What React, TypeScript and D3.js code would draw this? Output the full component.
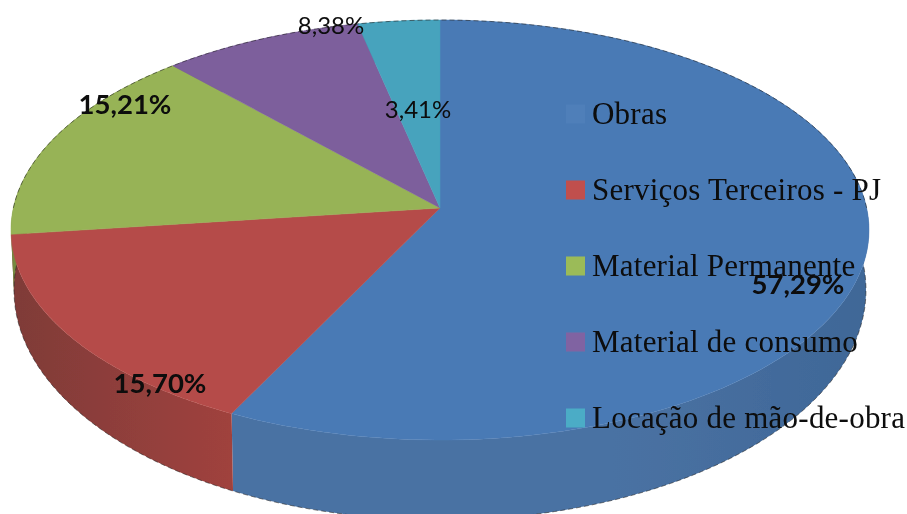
import React from "react";
import * as d3 from "d3";

const categories = ["Obras", "Serviços Terceiros - PJ", "Material Permanente", "Material de consumo", "Locação de mão-de-obra"];
const values = [57.29, 15.7, 15.21, 8.38, 3.41];
const valueLabels = ["57,29%", "15,70%", "15,21%", "8,38%", "3,41%"];
const topColors = ["#4a7ab5", "#b54c49", "#97b357", "#7d5f9c", "#46a3bd"];
const legendColors = ["#4f7fb9", "#c0504d", "#9bbb59", "#8064a2", "#4bacc6"];
const sideDark = ["#3f6797", "#7f3b38", "#74893f", "#5f4878", "#367f91"];
const sideLight = ["#4a72a3", "#a0423e", "#85a04a", "#6f5590", "#3f93a8"];
const labelPos: [number, number, number, number][] = [
  [798, 284, 700, 27.5],
  [160, 383, 700, 27.5],
  [125, 104, 700, 27.5],
  [331, 26, 400, 24],
  [418, 110, 400, 24],
];
const labelOrder = [0, 1, 2, 3, 4];

const W = 907, H = 514;
const tilt = -0.105;

// projective view of the unit disc: the pie centre sits above the ellipse centre
const project = (a: number): [number, number] => {
  const u = Math.sin(a), v = -Math.cos(a);
  const d = 1 + tilt * v;
  return [(u * Math.sqrt(1 - tilt * tilt)) / d, (v + tilt) / d];
};

const topX = d3.scaleLinear().domain([-1, 1]).range([11, 869]);
const topY = d3.scaleLinear().domain([-1, 1]).range([20, 440]);
const botX = d3.scaleLinear().domain([-1, 1]).range([14, 866]);
const botY = d3.scaleLinear().domain([-1, 1]).range([60, 520]);

const line = d3.line();
const legendY = d3.scalePoint<string>().domain(categories).range([114, 418]);

const arcAngles = (s: number, e: number) =>
  d3.range(0, 121).map((i) => s + ((e - s) * i) / 120);

export default function App() {
  const arcs = d3.pie<number>().sort(null)(values);
  const apex: [number, number] = [topX(0), topY(tilt)];
  return (
    <svg width={W} height={H} style={{ position: "fixed", left: 0, top: 0, background: "#fff" }}>
      <defs>
        {arcs.map((_, i) => (
          <linearGradient id={`side${i}`} key={i} gradientUnits="userSpaceOnUse" x1={i === 0 ? 233 : 14} x2={i === 0 ? 866 : 233} y1="0" y2="0">
            <stop offset="0" stopColor={i === 0 ? sideLight[i] : sideDark[i]} />
            <stop offset={i === 0 ? 0.6 : 1} stopColor={sideLight[i]} />
            <stop offset="1" stopColor={sideDark[i]} />
          </linearGradient>
        ))}
        <filter id="soft" x="-2%" y="-2%" width="104%" height="104%">
          <feGaussianBlur stdDeviation="0.45" />
        </filter>
      </defs>
      <g filter="url(#soft)">
        {arcs.map((a, i) => {
          const pts = arcAngles(a.startAngle, a.endAngle).map(project);
          const upper = pts.map(([u, v]) => [topX(u), topY(v)] as [number, number]);
          const lower = pts.map(([u, v]) => [botX(u), botY(v)] as [number, number]).reverse();
          return <path key={i} d={line([...upper, ...lower]) + "Z"} fill={`url(#side${i})`} />;
        })}
        <path
          d={line(arcAngles(Math.PI * 0.48, Math.PI * 1.52).map(project).map(([u, v]) => [botX(u), botY(v)] as [number, number])) ?? ""}
          fill="none" stroke="#222" strokeWidth={0.8} strokeDasharray="5 3" opacity={0.7}
        />
        {arcs.map((a, i) => {
          const upper = arcAngles(a.startAngle, a.endAngle).map(project).map(([u, v]) => [topX(u), topY(v)] as [number, number]);
          return <path key={i} d={line([apex, ...upper]) + "Z"} fill={topColors[i]} stroke={topColors[i]} strokeWidth={0.5} />;
        })}
        <path
          d={line(arcAngles(Math.PI * 1.5, Math.PI * 2.5).map(project).map(([u, v]) => [topX(u), topY(v)] as [number, number])) ?? ""}
          fill="none" stroke="#222" strokeWidth={0.8} strokeDasharray="5 3" opacity={0.7}
        />
        {categories.map((c, i) => (
          <g key={c}>
            <rect x={566} y={legendY(c)! - 9.5} width={19} height={19} fill={legendColors[i]} />
            <text x={592} y={legendY(c)! + 10} fontFamily="Liberation Serif" fontSize={31} letterSpacing={0.23} fill="#0a0a0a">
              {c}
            </text>
          </g>
        ))}
        {labelOrder.map((i) => (
          <text key={i} x={labelPos[i][0]} y={labelPos[i][1] + labelPos[i][3] * 0.35} textAnchor="middle"
            fontFamily="Lato" fontWeight={labelPos[i][2]} fontSize={labelPos[i][3]} fill="#0a0a0a">
            {valueLabels[i]}
          </text>
        ))}
      </g>
    </svg>
  );
}
